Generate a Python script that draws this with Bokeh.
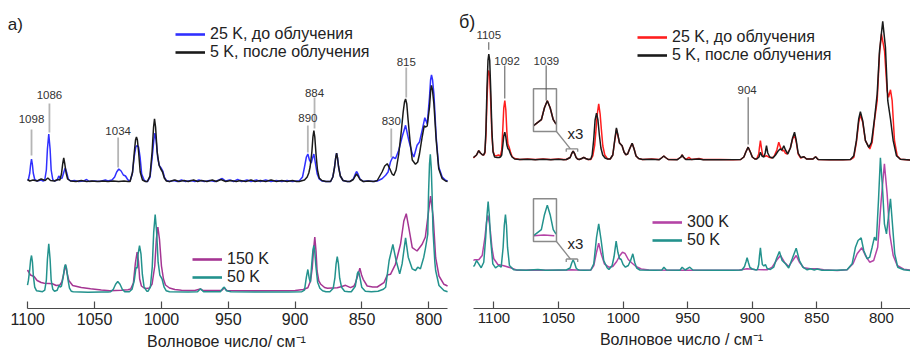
from bokeh.plotting import figure
from bokeh.models import Range1d, FixedTicker, Legend, LegendItem, LabelSet, Label, ColumnDataSource
from bokeh.layouts import row
from bokeh.embed import file_html
from bokeh.resources import INLINE
from bokeh.core.properties import value

FONT = "Liberation Sans"
xticks = [1100, 1050, 1000, 950, 900, 850, 800]

# ---------------- panel a) : (wavenumber, intensity above baseline) ----------------
a_25K_before = [(1100.2, 2), (1099.6, 2), (1098.5, 9), (1097.9, 17), (1097.2, 23), (1096.5, 17), (1095.9, 9), (1094.8, 2.5), (1093, 1), (1090, 2), (1088.5, 1),
    (1087.3, 2), (1086.1, 12), (1085.3, 33), (1084.3, 48), (1083.3, 33), (1082.5, 12), (1081.3, 2.5), (1080, 1), (1078, 2), (1076.8, 6), (1075.5, 3.5),
    (1074.3, 4), (1073, 10), (1072, 14), (1071, 10), (1069.7, 3), (1068, 1), (1065, 1.5), (1062, 0.5), (1058, 1), (1056, 2.5), (1054, 0.5), (1050, 1), (1046, 0.5), (1042, 2), (1040, 1),
    (1037, 2), (1035, 5), (1033.5, 10), (1031.9, 13), (1030.2, 11), (1028.5, 7), (1026.9, 6), (1025.5, 3), (1024.3, 1),
    (1023.5, 1), (1021.8, 8), (1020.4, 25), (1019.2, 35), (1018.2, 36.5), (1017.1, 35), (1016, 25), (1014.8, 8), (1013, 2), (1011.5, 0.5),
    (1010.5, 0.5), (1008.5, 5), (1006.9, 25), (1005.7, 42), (1004.9, 48.8), (1004, 42), (1002.8, 24), (1001.5, 16), (1000.2, 14), (999, 11), (997.8, 5), (996.3, 1.5), (994, 0.5),
    (991, 1.5), (988, 0.5), (985, 2), (982, 0.5), (978, 1.5), (975, 0.5), (972, 2), (968, 0.5), (964, 1.5), (960, 0.5), (957, 2), (954.5, 3.5), (952, 1), (949, 2), (946, 0.5),
    (943, 2.5), (940, 0.5), (936, 2), (933, 0.5), (929, 2), (926, 0.5), (922, 2), (918, 0.5), (914, 1.5), (910, 0.5), (906, 1.5), (902, 0.5), (899, 1),
    (897, 1), (894.5, 5), (893, 15), (891.6, 25), (890.5, 28), (889.3, 22), (888, 19), (887, 24), (886, 28), (885, 20), (883.5, 8), (882, 3), (880, 1),
    (877, 0.5), (873.5, 0.5), (871.8, 5), (870.5, 15), (869.7, 24), (869, 28.8), (868.3, 24), (867.5, 15), (866.2, 6), (864.2, 1.5), (861, 0.5),
    (859, 0.5), (856.5, 3), (855, 8), (854.1, 10.5), (853, 8), (851.5, 3), (849, 0.5), (846, 1), (842, 0.5), (838.6, 1),
    (835, 3.3), (832.3, 6.7), (830.5, 10), (828.7, 20), (827, 25), (825, 23.3), (822.5, 31.7), (820, 45), (817.4, 56.7), (815, 41.7), (812.4, 28.3),
    (811.2, 25), (808.8, 36.7), (807, 40), (805, 51.7), (803, 64.3), (801.2, 58), (799.5, 85), (798.7, 102), (798, 107), (797.2, 102), (796.2, 88), (794.5, 45), (792.6, 15),
    (790, 5), (787.5, 1.7), (786, 1)]

a_5K_after = [(1100.2, 2.5), (1098.5, 1), (1096, 2), (1093, 1), (1090, 3), (1087, 1.5), (1085, 4), (1083, 1.5), (1080, 1), (1077.5, 2.5),
    (1076, 2), (1074.8, 8), (1073.9, 18), (1073.1, 24), (1072.3, 18), (1071.3, 9), (1070.2, 3), (1068, 1), (1064, 0.5), (1060, 1.5), (1056, 0.5), (1052, 1), (1048, 0.5),
    (1044, 1), (1040, 0.5), (1036, 1), (1032, 0.5), (1028, 1), (1025, 0.5),
    (1023.5, 0.5), (1021.6, 10), (1020.3, 30), (1019.4, 42), (1018.7, 45), (1018, 42), (1017.1, 30), (1015.9, 10), (1014.2, 2), (1012, 0.5),
    (1010.5, 0.5), (1008.6, 6), (1007, 30), (1005.9, 55), (1005.2, 63.2), (1004.4, 55), (1003.2, 30), (1001.8, 17), (1000.5, 13), (999.2, 10), (997.9, 4), (996.3, 1), (994, 0.5),
    (990, 2), (987, 0.5), (983, 1.5), (980, 0.5), (976, 2), (973, 0.5), (970, 1.5), (966, 0.5), (962, 2), (959, 0.5), (955.5, 2.5), (952, 0.5),
    (948, 1.5), (944, 0.5), (941, 1.5), (937, 0.5), (933, 2), (930, 0.5), (926, 1.5), (922, 0.5), (918, 2), (914, 0.5), (910, 1.5), (906, 0.5), (902, 1.5), (899, 0.5),
    (897, 0.5), (893, 2), (891, 5), (889.8, 9), (888.8, 15), (887.5, 30), (886.7, 45), (886, 51.5), (885.3, 45), (884.4, 28), (883.3, 12), (882, 4), (880, 1.5), (877, 0.5),
    (873.5, 0.5), (871.8, 5), (870.5, 15), (869.7, 24), (869, 28.8), (868.3, 24), (867.5, 15), (866.2, 6), (864.2, 1.5), (861, 0.5),
    (859, 0.5), (856.5, 2.5), (855, 6), (854.1, 8), (853, 6), (851.5, 2.5), (849, 0.5), (845, 1), (841, 0.5),
    (838.6, 1.5), (835, 10), (833, 16), (831.1, 18.3), (829.1, 13), (827.5, 8), (826.2, 6.5), (824.5, 12), (822.5, 28), (820.5, 52), (819.2, 70),
    (818.2, 80), (817.4, 83), (816.5, 78), (815.5, 62), (814, 40), (812.4, 22), (810, 17.7), (808.3, 20), (807, 28), (805, 45), (803.5, 56), (802.3, 55),
    (801.2, 56), (799.5, 75), (798.6, 92), (798, 96.5), (797.3, 92), (796.2, 78), (794.5, 41.7), (792.6, 13.3), (790, 3.3), (787.5, 1), (786, 0.5)]

a_50K = [(1100.2, 7), (1099.5, 12), (1098.6, 22), (1097.9, 32), (1097.2, 36.7), (1096.5, 30), (1095.8, 16), (1094.8, 5), (1093.5, 1.5), (1091, 1), (1089, 0.5),
    (1087.3, 2), (1086.1, 12), (1085.3, 33), (1084.3, 48.3), (1083.3, 33), (1082.5, 12), (1081.3, 3), (1080, 1), (1078, 2), (1076.6, 7), (1075.8, 5),
    (1074.8, 6), (1073.5, 15), (1072.5, 25), (1071.8, 27.7), (1071, 24), (1070, 13), (1068.8, 4), (1067.5, 1), (1066, 0.5), (1055, 0), (1045, 0.3), (1040, 0.3),
    (1038, 0.5), (1036, 3), (1034.3, 8), (1032.7, 10.7), (1031, 8), (1029.3, 3), (1027.5, 0.5), (1025, 0.5),
    (1024, 0.5), (1022, 3), (1020.3, 12), (1019, 25), (1018.2, 24), (1017.5, 38), (1016.4, 46.7), (1015.3, 38), (1014.3, 18), (1013, 5), (1011, 1),
    (1010, 1), (1008.3, 5), (1006.9, 25), (1005.8, 60), (1004.7, 77.7), (1003.6, 60), (1002.5, 30), (1001.2, 17), (999.5, 13), (998, 5), (996.5, 1.5), (994, 0.5),
    (980, 0.3), (973, 0.5), (970.8, 3.5), (968.5, 0.5), (956, 0.5), (954, 4), (953, 5), (951.5, 1.5), (948, 0.5), (930, 0.2), (905, 0.3),
    (895, 0.5), (893, 2), (891.6, 15), (890.5, 22.7), (889.5, 14), (888.6, 10), (887.6, 28), (886.7, 42), (886, 46.7), (885.3, 40), (884.4, 25), (883.2, 10), (881.5, 4), (879.5, 1.5), (877, 0.5),
    (874, 0.5), (871.5, 4), (870.3, 14), (869.4, 28), (868.5, 35.7), (867.6, 28), (866.7, 14), (865.3, 5), (863, 1), (860, 0.5),
    (858, 0.5), (855, 6), (854, 14), (853.4, 19), (852.8, 20.7), (852.2, 19), (851.3, 13), (850.2, 5), (847.5, 1), (843, 0.5), (838, 1), (834, 3), (832.3, 5),
    (829.7, 31.7), (826.9, 47.7), (824.5, 31.7), (821.8, 18.3), (820, 28.3), (817.4, 54.3), (815.4, 35), (812.4, 23.3), (810, 21.7), (808.3, 25),
    (806.3, 23.3), (803.8, 35), (802.6, 43.3), (800.8, 58), (800.2, 100), (799.5, 128), (798.9, 138), (798.2, 125), (797.5, 95), (796.9, 62), (795.5, 30),
    (794.9, 21.7), (792.4, 6.7), (788.7, 1.7), (786, 0.5)]

a_150K = [(1100.2, 21), (1098, 16), (1095.3, 14.5), (1093, 10.5), (1090, 8.5), (1087.6, 7.8), (1084, 7.5), (1081.6, 7.2), (1078.7, 5.5), (1076, 6),
    (1074.5, 9), (1073, 18), (1071.8, 26.2), (1070.6, 18), (1069.3, 10.5), (1066.4, 5.5), (1060, 3.5), (1053, 2.2), (1045, 1), (1038.6, 0.3), (1030, 0.8), (1025, 1.2),
    (1023, 2), (1021, 8), (1019.5, 28), (1018.2, 38.8), (1017.2, 30), (1016.3, 12), (1015, 5), (1013, 3), (1011, 2.5),
    (1009, 3), (1007, 7), (1005, 25), (1003.8, 52), (1002.7, 63.8), (1001.5, 52), (1000, 25), (998.5, 12), (997, 6), (994, 3), (990, 1.5), (985, 0.8),
    (975, 0.5), (971, 2), (969, 0.5), (955, 0.5), (953, 3), (951, 0.5), (930, 0.3), (900, 0.5),
    (894, 1.5), (890.5, 3.3), (888.5, 10), (887.2, 23), (886.2, 42), (885.3, 54), (884.4, 40), (883.6, 20), (882.3, 10), (880.8, 6.7), (878, 3.5),
    (875.8, 2.7), (868.5, 3.3), (865, 4.5), (862.3, 5.7), (858.6, 3.3), (856, 5), (854.9, 8.3), (853, 16), (851.6, 22.7), (850.3, 16), (849.1, 11.7),
    (846.1, 5), (842, 4), (838.6, 4), (833.6, 8.3), (831.1, 16), (828.7, 16.7), (825, 26.7), (821.2, 46.7), (818.7, 70), (816.9, 77.3), (815, 63.3),
    (812.4, 43.3), (808.8, 40), (805, 46.7), (802.6, 54), (800.8, 73.3), (798.7, 95), (796.7, 73.3), (794.9, 33.3), (792.4, 15), (788.7, 6.7), (786, 5)]

# ---------------- panel б) ----------------
b_25K_before = [(1115.9, 2), (1113.5, 5), (1111.8, 9.3), (1110.5, 7), (1109, 5.3), (1108, 5),
    (1107, 7), (1106.2, 25), (1105.4, 60), (1104.6, 85), (1104, 89.5), (1103.3, 84), (1102.5, 58), (1101.6, 25), (1100.7, 9), (1099.5, 4.5), (1098, 4.3), (1096.5, 5), (1095, 4),
    (1094, 10), (1093.2, 30), (1092.4, 52), (1091.6, 59.5), (1090.8, 50), (1090, 28), (1089.2, 16), (1088.3, 13), (1087.2, 8), (1086, 3.5), (1084, 1.5), (1080, 0.5), (1074, 1),
    (1068, 0.5), (1062, 1), (1056, 0.5), (1050, 1), (1046, 0.5),
    (1044, 0.5), (1041, 2.5), (1039.8, 6.5), (1038.7, 8.8), (1037.6, 6.5), (1036.4, 2.5), (1035.3, 1), (1034, 0.5), (1032, 1.5), (1030.5, 2.7), (1029, 1.5), (1027, 0.5),
    (1025, 0.5), (1023.5, 4), (1022, 15), (1021, 30), (1020, 46), (1018.9, 56.2), (1017.8, 46), (1016.8, 30), (1015.7, 14), (1014.2, 5), (1012, 1),
    (1010, 1), (1008, 5), (1006.5, 19), (1005.2, 30.5), (1004, 24), (1002.8, 17), (1000.8, 14.3), (999.3, 8), (998, 5.3), (996.5, 6), (995, 11),
    (993, 16.8), (991.5, 11), (990, 4), (988, 1.5), (985, 0.5), (978, 1), (972, 0.5),
    (969.8, 2.5), (968.5, 4), (967.2, 2.5), (965, 0.5), (958, 0.5), (955.2, 3), (954.3, 5), (953.4, 3), (951.5, 0.5), (949.1, 2.7), (947, 0.5),
    (941.3, 1.5), (938, 0.5), (925, 0.5), (915, 0.3),
    (909, 0.5), (906.5, 3), (905, 8), (903.2, 12.8), (901.5, 8), (900, 3), (898, 1),
    (896.5, 1.5), (895, 6), (894.5, 12), (893.7, 19.5), (892.9, 12), (892, 5), (890.5, 3.5), (889, 4.3), (887.5, 3), (885, 2), (883, 4), (881, 10),
    (879.5, 17.7), (878, 12), (876.5, 9), (875.6, 10), (874.5, 7), (873, 6), (870.5, 12), (868.8, 21), (867.3, 25.3), (866, 18), (864.5, 6),
    (862.5, 2), (860, 3.3), (858, 1), (853, 1), (851, 3.3), (849, 0.5), (840, 0.3), (830, 0.3),
    (824, 0.5), (821.4, 2.7), (819.4, 17.7), (817.6, 37.7), (816.3, 45.3), (814.5, 37.7), (812.4, 19.3), (809, 11), (807.2, 17.7), (805.4, 39.3),
    (803.3, 59.3), (801.5, 106), (800, 126.2), (797.6, 109), (795.6, 69.3), (794.5, 62.7), (793, 70.2), (791.7, 59.3), (789.9, 19.3), (787.8, 4.3),
    (785.3, 0.7), (777.5, 0)]

b_5K_after = [(1115.9, 2.5), (1113.5, 5), (1111.8, 9.3), (1110.5, 7), (1109, 5.3), (1108, 5),
    (1107, 8), (1106.2, 30), (1105.4, 72), (1104.6, 100), (1104, 106), (1103.3, 100), (1102.5, 70), (1101.6, 30), (1100.7, 8), (1099.5, 3), (1097.5, 2.5), (1096, 2.5), (1095, 3),
    (1094, 5), (1093.2, 14), (1092.4, 24), (1091.6, 27.8), (1090.8, 23), (1090, 15), (1089.2, 11.5), (1088.3, 10), (1087.2, 6), (1086, 3), (1084, 1), (1080, 0.5), (1074, 0.8),
    (1068, 0.3), (1062, 0.8), (1056, 0.3), (1050, 0.8), (1046, 0.3),
    (1044, 0.5), (1041, 2.5), (1039.8, 6.5), (1038.7, 8.8), (1037.6, 6.5), (1036.4, 2.5), (1035.3, 1), (1034, 0.5), (1032, 1.5), (1030.5, 2.7), (1029, 1.5), (1027, 0.5),
    (1025, 1), (1024, 5), (1022.8, 20), (1021.7, 40), (1020.6, 46.8), (1019.5, 40), (1018.4, 25), (1017.2, 12), (1015.8, 5), (1014, 2), (1012, 1),
    (1010, 1), (1008, 5), (1006.5, 20), (1005.2, 32.2), (1004, 25), (1002.8, 17), (1000.8, 14.3), (999.3, 8), (998, 5.3), (996.5, 6), (995, 11),
    (993, 16.8), (991.5, 11), (990, 4), (988, 1.5), (985, 0.5), (978, 0.8), (972, 0.3),
    (969.8, 2.5), (968.5, 4), (967.2, 2.5), (965, 0.5), (958, 0.3), (955.2, 3), (954.3, 5), (953.4, 3), (951.5, 0.5), (947, 0.5), (941.3, 1), (938, 0.3), (925, 0.3),
    (909, 0.5), (906.5, 3), (905, 8), (903.2, 12.8), (901.5, 8), (900, 3), (898, 1),
    (896.5, 1), (894.8, 3), (893.7, 7.7), (892.5, 4), (891, 3), (890, 7), (889, 14.3), (888, 7), (886.5, 3), (884, 2), (882, 5), (880, 9),
    (878.5, 11), (877, 10), (875.6, 14.3), (874.3, 10), (872.5, 6), (870.5, 12), (868.8, 22), (867.3, 27.8), (866, 20), (864.5, 7), (862.5, 2.5),
    (860, 3.3), (858, 1), (853, 1), (851, 3.3), (849, 0.5), (840, 0.3), (830, 0.3),
    (824, 0.5), (821.4, 4.3), (819.4, 19.3), (817.6, 41), (816.3, 48.3), (814.5, 39.3), (812.4, 19.3), (809.8, 12.7), (807.7, 17.7), (805.4, 41),
    (803.3, 66), (801.5, 109), (799, 138.7), (796.9, 112.7), (795.1, 59.3), (793, 41), (790.9, 19.3), (788.4, 4.3), (785.3, 0.7), (777.5, 0)]

b_300K = [(1115.9, 10), (1115.1, 10.7), (1111.8, 10.7), (1109.1, 15), (1107, 33), (1105.8, 48), (1104.7, 55), (1103.6, 48), (1102.7, 38.3),
    (1101.5, 22), (1100.1, 11.7), (1097, 6), (1092.4, 4.7), (1087.2, 2.7), (1082.1, 0.3), (1070, 0.5), (1060, 0.3), (1050, 0.3),
    (1044, 0.5), (1040, 0.7), (1036, 0.5), (1030, 0.3), (1025, 0.5), (1022.7, 5), (1020.6, 18.3), (1018.9, 27.3), (1017, 16.7), (1014.5, 6.7), (1011.1, 3.3),
    (1008, 4), (1005, 9), (1002.5, 15), (1000.5, 18.3), (998.5, 17), (996, 11), (993, 7.3), (990, 4), (986, 1.5), (980, 0.5), (960, 0.3), (930, 0.3),
    (910, 0.5), (904, 1.7), (898, 1), (888.5, 0.7), (884.6, 3.3), (881.3, 10), (878.2, 15), (875.1, 8.3), (871.8, 4), (869.1, 9.3), (866, 15),
    (863.5, 8.3), (860.1, 2.7), (855, 1.7), (849.8, 1.7), (844.7, 0.7), (834.3, 0),
    (826.6, 0.7), (822, 6.7), (818.8, 16.7), (815.2, 22.7), (812.4, 15), (809.1, 8.3), (806, 10), (802.9, 23.3), (800.2, 70), (797.7, 106.7),
    (795.6, 76.7), (793.6, 36.7), (790.9, 15), (787.8, 5), (782.7, 1.3), (777.5, 0.5)]

b_50K = [(1115.9, 4), (1115.1, 5), (1113.5, 10), (1111.8, 6.7), (1109.9, 2.7), (1107.9, 8.3), (1106.4, 33), (1105.4, 55), (1104.5, 69), (1103.6, 55),
    (1102.7, 33), (1100.9, 6.7), (1098.8, 2.7), (1096.3, 5), (1094.4, 3.3), (1092.9, 23.3), (1092, 45), (1091.1, 56), (1090.3, 45), (1089.5, 23.3),
    (1088, 5), (1084.7, 0.7), (1075, 0.3), (1066, 1), (1060, 0.3), (1050, 0.5),
    (1044, 0.5), (1041, 2.5), (1039.8, 7.5), (1038.7, 10.7), (1037.6, 7.5), (1036.4, 2.5), (1035.3, 1), (1034, 0.5), (1030, 0.3), (1025, 0.5),
    (1022.7, 6.7), (1020.6, 33), (1018.9, 46.7), (1017, 30), (1015, 10), (1012.4, 2.7), (1011, 1),
    (1008.5, 5), (1007, 14), (1005.4, 29.3), (1004, 18), (1002.8, 12), (1001.5, 11), (1000, 6), (998.2, 3.3), (996, 5), (994.2, 10), (992.5, 16.7),
    (991, 8), (989.5, 2.5), (987, 0.5), (975, 0.3),
    (970, 0.5), (968.4, 3.3), (966.5, 0.5), (956, 0.3), (954.3, 3.3), (952, 0.5), (948.4, 3.3), (946, 0.5), (930, 0.3), (915, 0.3),
    (908, 0.5), (906, 4), (904.8, 9), (904, 12.7), (903, 8), (901.8, 3), (900, 1.5), (897, 0.5),
    (896, 1), (895, 6), (894.4, 15), (893.7, 22.7), (893, 14), (892.2, 6), (891, 4.5), (889.8, 6), (888.5, 2), (886, 1), (883.4, 3.3), (881.3, 11.7),
    (879, 19), (876.9, 10), (874.3, 6.7), (871.8, 2.5), (869.1, 11.7), (866, 22.3), (863.5, 10), (860.9, 3.3), (857.5, 0.7), (855, 1.7), (852, 0.5),
    (849.8, 1.5), (846, 0.3), (835, 0.3),
    (826.6, 0.7), (822.7, 6.7), (820.1, 23.3), (818.1, 30), (815.7, 32.7), (813.7, 20), (811.1, 11.7), (809.1, 13.3), (807.2, 23.3), (805.4, 33.3),
    (803.9, 30), (802.3, 70), (800.8, 112.7), (799.2, 83.3), (797.7, 46.7), (796.1, 36.7), (794.6, 53.3), (793, 71.7), (791.5, 46.7), (789.7, 16.7),
    (787.4, 3.3), (782.7, 0.7), (777.5, 0)]

# peak annotations
ann_a_text = ["1098", "1086", "1034", "890", "884", "830", "815"]
ann_a_x = [1097.2, 1083.8, 1032.4, 890.5, 885.5, 828.1, 816.9]
ann_a_text_y = [191, 215, 179, 192, 217, 188.3, 248]
ann_a_line_top = [180, 206, 172, 184, 212, 181, 242]
ann_a_line_bot = [154, 177, 142, 157, 181, 152, 212]

ann_b_text = ["1105", "1092", "1039", "904"]
ann_b_text_x = [1104, 1089.8, 1059.4, 904]
ann_b_text_y = [275, 249, 249, 219.7]
ann_b_line_x = [1104, 1091.6, 1059.6, 903.2]
ann_b_line_top = [267.3, 244, 244, 212.3]
ann_b_line_bot = [259.7, 211, 209, 165]

# layout constants (pixels above the reference axis line)
OFF_A_TOP, OFF_A_BOT_TEAL, OFF_A_BOT_MAG = 127.5, 17.3, 18.5
OFF_B_TOP, OFF_B_BOT = 149.5, 39.0
INSET_LO, INSET_HI, INSET_WC, INSET_CX, INSET_MX, INSET_MY = 1035.15, 1044.05, 1039.2, 1059.7, 2.0, 3.0
INSET_BASE_TOP, INSET_BASE_BOT = 182.3, 72.3
BRACKET_Y_TOP, BRACKET_Y_BOT = 160.7, 50.5

C_BLUE, C_BLACK, C_TEAL, C_MAG, C_RED, C_MAG2 = "#3030ff", "#1a1a1a", "#23928d", "#a53593", "#ff1e1e", "#b444a6"
LW = 1.5


def xy(pts, off):
    pts = sorted(pts, key=lambda p: -p[0])
    return [p[0] for p in pts], [off + p[1] for p in pts]


def make_fig(xr, bounds, fw, tick_fs, xlabel):
    p = figure(output_backend="svg", toolbar_location=None, frame_width=fw, frame_height=308,
               min_border_left=0, min_border_right=0, min_border_top=0, min_border_bottom=0,
               x_range=Range1d(*xr), y_range=Range1d(1, 309), y_axis_location=None)
    p.grid.visible = False
    p.outline_line_color = None
    ax = p.xaxis[0]
    ax.bounds = bounds
    ax.ticker = FixedTicker(ticks=xticks, minor_ticks=[])
    ax.major_tick_in = 7
    ax.major_tick_out = 0
    ax.axis_line_color = "#4a4a4a"
    ax.axis_line_width = 1.2
    ax.major_tick_line_color = "#4a4a4a"
    ax.major_tick_line_width = 1.2
    ax.major_label_text_font = FONT
    ax.major_label_text_font_size = tick_fs
    ax.major_label_text_color = "#222222"
    ax.major_label_standoff = 4
    ax.axis_label = xlabel
    ax.axis_label_text_font = FONT
    ax.axis_label_text_font_size = "16px"
    ax.axis_label_text_font_style = "normal"
    ax.axis_label_text_color = "#222222"
    ax.axis_label_standoff = 5
    return p


def add_legend(p, items, loc, spacing):
    leg = Legend(items=items, location=loc, padding=0, margin=0, spacing=spacing, glyph_width=30, glyph_height=16,
                 label_height=16, label_standoff=5, label_text_font=FONT, label_text_font_size="16px",
                 label_text_color="#222222", background_fill_alpha=0, border_line_alpha=0)
    p.add_layout(leg)


def proxy(p, pts, off, color):
    x, y = xy(pts, off)
    return p.line(x, y, line_color=color, line_width=2.6, visible=False)


def add_ann(p, tx, ty, labels, lx, ltop, lbot, lcolor, lwidth):
    p.segment(x0=lx, y0=ltop, x1=lx, y1=lbot, line_color=lcolor, line_width=lwidth)
    src = ColumnDataSource(dict(x=tx, y=ty, t=labels))
    p.add_layout(LabelSet(x="x", y="y", text="t", source=src, text_align="center", text_baseline="middle",
                          text_font=value(FONT), text_font_size="11.5px", text_color="#333333"))


def add_inset(p, series, base, bracket_y):
    for pts, color in series:
        w, h = xy([q for q in pts if INSET_LO <= q[0] <= INSET_HI], 0)
        p.line([INSET_CX + (v - INSET_WC) * INSET_MX for v in w], [base + INSET_MY * v for v in h],
               line_color=color, line_width=LW)
    bx0 = INSET_CX + (INSET_HI - INSET_WC) * INSET_MX
    bx1 = INSET_CX + (INSET_LO - INSET_WC) * INSET_MX
    by0, by1 = base - 4.3, base + 38.5
    p.quad(left=[bx0], right=[bx1], bottom=[by0], top=[by1], fill_color=None, line_color="#8a8a8a", line_width=1.5)
    p.segment(x0=[bx1, INSET_HI, INSET_HI, INSET_LO], y0=[by0, bracket_y, bracket_y, bracket_y],
              x1=[1040.8, INSET_LO, INSET_HI, INSET_LO], y1=[bracket_y, bracket_y, bracket_y - 3, bracket_y - 3],
              line_color="#8a8a8a", line_width=1.3)
    p.add_layout(Label(x=1037.0, y=bracket_y + 15.5, text="x3", text_align="center", text_baseline="middle",
                       text_font=FONT, text_font_size="15px", text_color="#222222"))


# ---------------- figure a ----------------
pa = make_fig((1120.4, 782.3), (786.0, 1100.0), 452, "16px", "Волновое число/ см⁻¹")
x, y = xy(a_25K_before, OFF_A_TOP); pa.line(x, y, line_color=C_BLUE, line_width=LW)
x, y = xy(a_5K_after, OFF_A_TOP); pa.line(x, y, line_color=C_BLACK, line_width=LW)
x, y = xy(a_150K, OFF_A_BOT_MAG); pa.line(x, y, line_color=C_MAG, line_width=LW)
x, y = xy(a_50K, OFF_A_BOT_TEAL); pa.line(x, y, line_color=C_TEAL, line_width=LW)
add_ann(pa, ann_a_x, ann_a_text_y, ann_a_text, ann_a_x, ann_a_line_top, ann_a_line_bot, "#b5b5b5", 1.8)
add_legend(pa, [LegendItem(label="25 K, до облучения", renderers=[proxy(pa, a_25K_before, OFF_A_TOP, C_BLUE)]),
                LegendItem(label="5 K, после облучения", renderers=[proxy(pa, a_5K_after, OFF_A_TOP, C_BLACK)])], (175, 247), -1)
add_legend(pa, [LegendItem(label="150 K", renderers=[proxy(pa, a_150K, OFF_A_BOT_MAG, C_MAG)]),
                LegendItem(label="50 K", renderers=[proxy(pa, a_50K, OFF_A_BOT_TEAL, C_TEAL)])], (192, 22), -2)
pa.add_layout(Label(x=1115.0, y=285, text="а)", text_align="left", text_baseline="middle",
                    text_font=FONT, text_font_size="17px", text_color="#222222"))

# ---------------- figure б ----------------
pb = make_fig((1132.1, 777.5), (777.5, 1115.9), 458, "15px", "Волновое число / см⁻¹")
x, y = xy(b_25K_before, OFF_B_TOP); pb.line(x, y, line_color=C_RED, line_width=LW)
x, y = xy(b_5K_after, OFF_B_TOP); pb.line(x, y, line_color=C_BLACK, line_width=LW)
x, y = xy(b_300K, OFF_B_BOT); pb.line(x, y, line_color=C_MAG2, line_width=LW)
x, y = xy(b_50K, OFF_B_BOT); pb.line(x, y, line_color=C_TEAL, line_width=LW)
add_inset(pb, [(b_25K_before, C_RED), (b_5K_after, C_BLACK)], INSET_BASE_TOP, BRACKET_Y_TOP)
add_inset(pb, [(b_300K, C_MAG2), (b_50K, C_TEAL)], INSET_BASE_BOT, BRACKET_Y_BOT)
add_ann(pb, ann_b_text_x, ann_b_text_y, ann_b_text, ann_b_line_x, ann_b_line_top, ann_b_line_bot, "#555555", 1.0)
add_legend(pb, [LegendItem(label="25 K, до облучения", renderers=[proxy(pb, b_25K_before, OFF_B_TOP, C_RED)]),
                LegendItem(label="5 K, после облучения", renderers=[proxy(pb, b_5K_after, OFF_B_TOP, C_BLACK)])], (185, 244), -2)
add_legend(pb, [LegendItem(label="300 K", renderers=[proxy(pb, b_300K, OFF_B_BOT, C_MAG2)]),
                LegendItem(label="50 K", renderers=[proxy(pb, b_50K, OFF_B_BOT, C_TEAL)])], (200, 59), -2)
pb.add_layout(Label(x=1127.1, y=287.5, text="б)", text_align="left", text_baseline="middle",
                    text_font=FONT, text_font_size="18px", text_color="#222222"))

layout = row(pa, pb)
open("out.html", "w").write(file_html(layout, INLINE))
